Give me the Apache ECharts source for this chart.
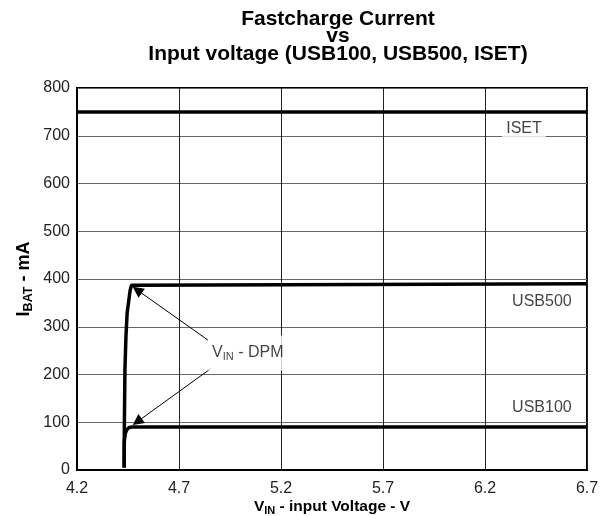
<!DOCTYPE html>
<html>
<head>
<meta charset="utf-8">
<script src="https://cdn.jsdelivr.net/npm/echarts@6/dist/echarts.min.js"></script>
<style>
  html, body { margin: 0; padding: 0; background: #fff; }
  #chart { width: 608px; height: 516px; }
</style>
</head>
<body>
<div id="chart"></div>
<script>
// x axis starts at 4.2 V, ticks every 0.5 V
const V0 = 4.2;
const xTicks = ['4.2', '4.7', '5.2', '5.7', '6.2', '6.7'];

// ISET: flat across the whole range
const isetV = [4.2, 6.7];
const isetI = [750, 750];

// USB500 curve
const usb500V = [4.431, 4.432, 4.435, 4.440, 4.446, 4.453, 4.460, 4.467, 4.476, 6.7];
const usb500I = [5, 84, 210, 280, 330, 352, 375, 387, 390, 390];

// USB100 curve
const usb100V = [4.431, 4.432, 4.436, 4.443, 4.455, 4.470, 6.7];
const usb100I = [5, 60, 75, 84, 89, 90, 90];

// curve labels
const labelNames = ['ISET', 'USB500', 'USB100'];
const labelV = [6.391, 6.479, 6.479];
const labelI = [716, 352, 130];

// V_IN - DPM note and its two arrows
const dpmV = 5.037, dpmI = 245;
const arrowFromV = [4.842, 4.858];
const arrowFromI = [272, 213];
const arrowToV = [4.495, 4.495];
const arrowToI = [377, 101];

const font = 'Liberation Sans, Arial, sans-serif';
const pts = (vs, is) => vs.map((v, k) => [v - V0, is[k]]);

const chart = echarts.init(document.getElementById('chart'));

const curve = (name, vs, is) => ({
  name: name,
  type: 'line',
  data: pts(vs, is),
  symbol: 'none',
  lineStyle: { color: '#000', width: 3.5 },
  silent: true,
  z: 5
});

chart.setOption({
  animation: false,
  backgroundColor: '#fff',
  title: {
    text: 'Fastcharge Current\nvs\nInput voltage (USB100, USB500, ISET)',
    left: 333,
    top: 5,
    textAlign: 'center',
    textStyle: {
      fontFamily: font, fontSize: 21, fontWeight: 'bold', color: '#000', lineHeight: 17.5
    }
  },
  grid: {
    left: 77, right: 21, top: 88, bottom: 46,
    outerBoundsMode: 'none',
    show: true, borderColor: '#000', borderWidth: 2
  },
  xAxis: {
    type: 'value',
    min: 0, max: 2.5, interval: 0.5,
    name: '{a|V}{s|IN}{a| - input Voltage - V}',
    nameLocation: 'middle',
    nameGap: 27,
    nameMoveOverlap: false,
    nameTextStyle: {
      rich: {
        a: { fontFamily: font, fontSize: 15.5, fontWeight: 'bold', color: '#000' },
        s: { fontFamily: font, fontSize: 11, fontWeight: 'bold', color: '#000', padding: [8, 0, 0, 0] }
      }
    },
    axisLine: { lineStyle: { color: '#000', width: 2 } },
    axisTick: { show: false },
    axisLabel: {
      fontFamily: font, fontSize: 16, color: '#222', margin: 11,
      formatter: (v) => xTicks[Math.round(v / 0.5)]
    },
    splitLine: { lineStyle: { color: '#222', width: 1 } }
  },
  yAxis: {
    type: 'value',
    min: 0, max: 800, interval: 100,
    name: '{a|I}{s|BAT}{a| - mA}',
    nameLocation: 'middle',
    nameGap: 42,
    nameMoveOverlap: false,
    nameTextStyle: {
      rich: {
        a: { fontFamily: font, fontSize: 18, fontWeight: 'bold', color: '#000' },
        s: { fontFamily: font, fontSize: 12.5, fontWeight: 'bold', color: '#000', padding: [9, 0, 0, 0] }
      }
    },
    axisLine: { lineStyle: { color: '#000', width: 2 } },
    axisTick: { show: false },
    axisLabel: { fontFamily: font, fontSize: 16, color: '#222', margin: 7 },
    splitLine: { lineStyle: { color: '#666', width: 1 } }
  },
  series: [
    curve('ISET', isetV, isetI),
    curve('USB500', usb500V, usb500I),
    curve('USB100', usb100V, usb100I),
    {
      name: 'labels',
      type: 'scatter',
      symbolSize: 0,
      silent: true,
      z: 6,
      data: labelNames.map((n, k) => ({ name: n, value: [labelV[k] - V0, labelI[k]] })),
      label: {
        show: true, position: 'inside', formatter: '{b}',
        fontFamily: font, fontSize: 16, color: '#111',
        backgroundColor: '#fff', padding: [2, 4]
      }
    },
    {
      name: 'dpm',
      type: 'scatter',
      symbolSize: 0,
      silent: true,
      z: 6,
      data: [{ name: 'dpm', value: [dpmV - V0, dpmI] }],
      label: {
        show: true, position: 'inside',
        formatter: '{a|V}{s|IN}{a| - DPM}',
        backgroundColor: '#fff', padding: [8, 4],
        rich: {
          a: { fontFamily: font, fontSize: 16, color: '#111' },
          s: { fontFamily: font, fontSize: 11, color: '#111', padding: [8, 0, 0, 0] }
        }
      },
      markLine: {
        silent: true,
        symbol: ['none', 'triangle'],
        symbolSize: 11,
        label: { show: false },
        lineStyle: { color: '#000', width: 1, type: 'solid' },
        data: arrowFromV.map((v, k) => [
          { coord: [v - V0, arrowFromI[k]] },
          { coord: [arrowToV[k] - V0, arrowToI[k]] }
        ])
      }
    }
  ]
});
</script>
</body>
</html>
